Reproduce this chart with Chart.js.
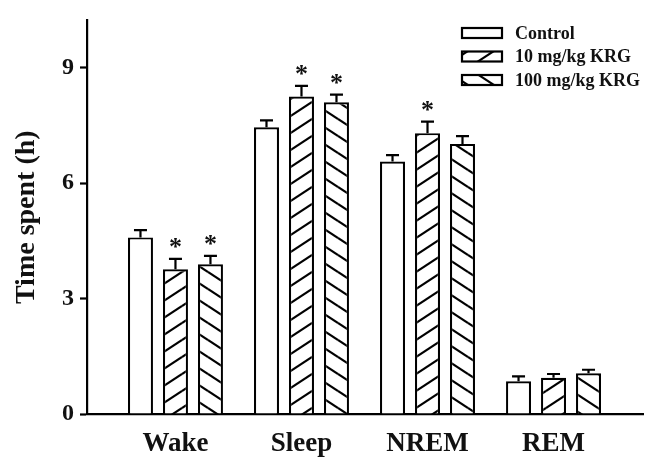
<!DOCTYPE html>
<html>
<head>
<meta charset="utf-8">
<script src="https://cdn.jsdelivr.net/npm/chart.js@4/dist/chart.umd.min.js"></script>
<style>
  html, body { margin: 0; padding: 0; background: #fff; }
  #wrap { width: 661px; height: 460px; position: relative; }
</style>
</head>
<body>
<div id="wrap"><canvas id="c"></canvas></div>
<script>
// Sleep–wake architecture: time spent per state (h), mean ± SEM
const categories = ['Wake', 'Sleep', 'NREM', 'REM'];
const groupNames = ['Control', '10 mg/kg KRG', '100 mg/kg KRG'];

const controlMeans = [4.59, 7.45, 6.56, 0.85];
const controlErr   = [0.19, 0.18, 0.17, 0.13];
const krg10Means   = [3.76, 8.25, 7.30, 0.94];
const krg10Err     = [0.27, 0.28, 0.30, 0.10];
const krg100Means  = [3.89, 8.10, 7.02, 1.06];
const krg100Err    = [0.22, 0.20, 0.20, 0.09];

// significance vs control (asterisks)
const controlSig = [false, false, false, false];
const krg10Sig   = [true, true, true, false];
const krg100Sig  = [true, true, false, false];

const yTicks = [0, 3, 6, 9];
const yMax = 10.23;

const FONT = '"Liberation Serif", "Times New Roman", serif';
const INK = '#111';

// diagonal hatch fills
function hatch(direction) {
  const W = 26, H = 17;
  const cv = document.createElement('canvas');
  cv.width = W; cv.height = H;
  const g = cv.getContext('2d');
  g.fillStyle = '#fff';
  g.fillRect(0, 0, W, H);
  g.strokeStyle = '#000';
  g.lineWidth = 2.2;
  for (let ox = -1; ox <= 1; ox++) {
    for (let oy = -1; oy <= 1; oy++) {
      g.beginPath();
      if (direction === 'up') {
        g.moveTo(ox * W, oy * H + H);
        g.lineTo(ox * W + W, oy * H);
      } else {
        g.moveTo(ox * W, oy * H);
        g.lineTo(ox * W + W, oy * H + H);
      }
      g.stroke();
    }
  }
  return g.createPattern(cv, 'repeat');
}

const fills = ['#ffffff', hatch('up'), hatch('down')];
const seriesMeans = [controlMeans, krg10Means, krg100Means];
const seriesErr = [controlErr, krg10Err, krg100Err];
const seriesSig = [controlSig, krg10Sig, krg100Sig];

const datasets = groupNames.map((name, i) => ({
  label: name,
  data: seriesMeans[i].map((v, k) => ({ x: k, y: v })),
  err: seriesErr[i],
  sig: seriesSig[i],
  backgroundColor: fills[i],
  borderColor: '#000',
  borderWidth: 2.2,
  borderSkipped: 'start',
  categoryPercentage: 0.833,
  barPercentage: 0.714
}));

// error bars (upper whisker) and asterisks
const errorBars = {
  id: 'errorBars',
  afterDatasetsDraw(chart) {
    const ctx = chart.ctx;
    const y = chart.scales.y;
    ctx.save();
    ctx.strokeStyle = '#000';
    ctx.lineWidth = 2.2;
    chart.data.datasets.forEach((ds, di) => {
      const meta = chart.getDatasetMeta(di);
      meta.data.forEach((bar, k) => {
        const v = ds.data[k].y;
        const top = y.getPixelForValue(v + ds.err[k]);
        const base = y.getPixelForValue(v);
        ctx.beginPath();
        ctx.moveTo(bar.x, base);
        ctx.lineTo(bar.x, top);
        ctx.moveTo(bar.x - 6.5, top);
        ctx.lineTo(bar.x + 6.5, top);
        ctx.stroke();
        if (ds.sig[k]) {
          ctx.fillStyle = INK;
          ctx.font = 'bold 26px ' + FONT;
          ctx.textAlign = 'center';
          ctx.textBaseline = 'alphabetic';
          ctx.fillText('*', bar.x, top - 4);
        }
      });
    });
    ctx.restore();
  }
};

// legend box in the upper right
const boxLegend = {
  id: 'boxLegend',
  afterDraw(chart) {
    const ctx = chart.ctx;
    ctx.save();
    groupNames.forEach((name, i) => {
      const bx = 462, by = 28 + i * 23.5, bw = 40, bh = 10;
      ctx.fillStyle = fills[i];
      ctx.fillRect(bx, by, bw, bh);
      ctx.strokeStyle = '#000';
      ctx.lineWidth = 2.2;
      ctx.strokeRect(bx, by, bw, bh);
      ctx.fillStyle = INK;
      ctx.font = 'bold 18px ' + FONT;
      ctx.textAlign = 'left';
      ctx.textBaseline = 'middle';
      ctx.fillText(name, 515, by + bh / 2 + 1);
    });
    ctx.restore();
  }
};

new Chart(document.getElementById('c'), {
  type: 'bar',
  data: { datasets },
  options: {
    responsive: true,
    maintainAspectRatio: false,
    animation: false,
    layout: { padding: { top: 13, right: 18, left: 0, bottom: 0 } },
    plugins: {
      legend: { display: false },
      tooltip: { enabled: false }
    },
    scales: {
      x: {
        type: 'linear',
        min: -0.702,
        max: 3.71,
        offset: false,
        grid: { display: false, drawTicks: false },
        border: { display: true, color: '#000', width: 2.2 },
        afterBuildTicks(scale) { scale.ticks = categories.map((c, k) => ({ value: k })); },
        afterFit(scale) { scale.height = 460 - 414; },
        ticks: {
          autoSkip: false,
          maxRotation: 0,
          padding: 14,
          color: INK,
          font: { family: FONT, size: 27, weight: 'bold' },
          callback: (v) => categories[v]
        }
      },
      y: {
        min: 0,
        max: yMax,
        grid: {
          drawOnChartArea: false,
          drawTicks: true,
          tickLength: 7,
          tickWidth: 2.2,
          tickColor: '#000'
        },
        border: { display: true, color: '#000', width: 2.2 },
        afterBuildTicks(scale) { scale.ticks = yTicks.map(v => ({ value: v })); },
        afterFit(scale) { scale.width = 87; },
        ticks: {
          padding: 6,
          color: INK,
          font: { family: FONT, size: 24, weight: 'bold' }
        },
        title: {
          display: true,
          text: 'Time spent (h)',
          color: INK,
          font: { family: FONT, size: 28, weight: 'bold' },
          padding: { top: 10, bottom: 0 }
        }
      }
    }
  },
  plugins: [errorBars, boxLegend]
});
</script>
</body>
</html>
